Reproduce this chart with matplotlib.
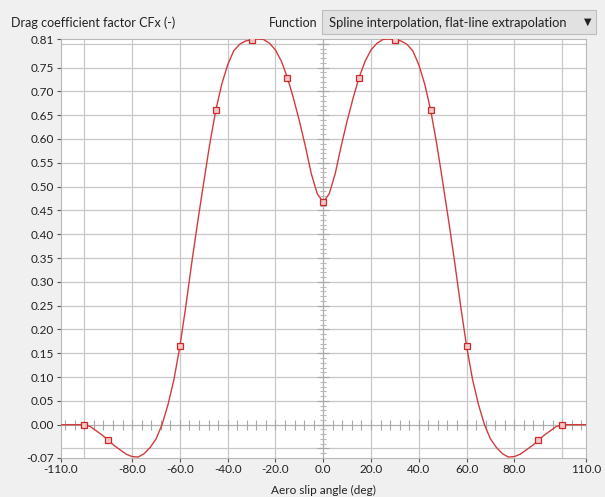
import numpy as np
import matplotlib.pyplot as plt
from matplotlib.patches import Rectangle

plt.rcParams['font.family'] = ['Lato', 'DejaVu Sans']

# control points (markers)
knot_x = [-100, -90, -60, -45, -30, -15, 0, 15, 30, 45, 60, 90, 100]
knot_y = [0.0, -0.033, 0.165, 0.66, 0.808, 0.729, 0.467, 0.729, 0.808, 0.66, 0.165, -0.033, 0.0]

# curve
curve_x = [-110, -105, -100, -97.5, -95, -92.5, -90, -87.5, -85, -82.5, -80, -77.5, -75,
           -72.5, -70, -67.5, -65, -62.5, -60, -57.5, -55, -52.5, -50, -47.5, -45,
           -42.5, -40, -37.5, -35, -32.5, -30, -27.5, -25, -22.5, -20, -17.5, -15,
           -12.5, -10, -7.5, -5, -2.5, 0,
           2.5, 5, 7.5, 10, 12.5, 15, 17.5, 20, 22.5, 25, 27.5, 30, 32.5, 35, 37.5, 40,
           42.5, 45, 47.5, 50, 52.5, 55, 57.5, 60, 62.5, 65, 67.5, 70, 72.5, 75, 77.5,
           80, 82.5, 85, 87.5, 90, 92.5, 95, 97.5, 100, 105, 110]
curve_y = [0.0, 0.0, 0.0, -0.004, -0.013, -0.022, -0.033, -0.044, -0.053, -0.062, -0.067, -0.068, -0.061,
           -0.048, -0.03, 0.0, 0.042, 0.095, 0.165, 0.25, 0.342, 0.428, 0.51, 0.59, 0.66,
           0.715, 0.756, 0.785, 0.799, 0.806, 0.808, 0.81, 0.809, 0.801, 0.787, 0.763, 0.729,
           0.686, 0.638, 0.585, 0.527, 0.485, 0.467,
           0.485, 0.527, 0.585, 0.638, 0.686, 0.729, 0.763, 0.787, 0.801, 0.809, 0.81, 0.808, 0.806, 0.799, 0.785, 0.756,
           0.715, 0.66, 0.59, 0.51, 0.428, 0.342, 0.25, 0.165, 0.095, 0.042, 0.0, -0.03, -0.048, -0.061, -0.068,
           -0.067, -0.062, -0.053, -0.044, -0.033, -0.022, -0.013, -0.004, 0.0, 0.0, 0.0]

x_ticks = [-110, -80, -60, -40, -20, 0, 20, 40, 60, 80, 110]
y_ticks = [-0.07, 0.0, 0.05, 0.10, 0.15, 0.20, 0.25, 0.30, 0.35, 0.40, 0.45, 0.50,
           0.55, 0.60, 0.65, 0.70, 0.75, 0.81]

W, H = 605, 497
fig = plt.figure(figsize=(W / 100, H / 100), dpi=100, facecolor='#f0f0f0')
ax = fig.add_axes([60.5 / W, 1 - 458 / H, 525.5 / W, 419 / H])
ax.set_facecolor('white')
ax.set_xlim(-110, 110)
ax.set_ylim(-0.07, 0.81)

grid_c = '#c8c8c8'
for gy in np.arange(-0.05, 0.81, 0.05):
    if abs(gy) > 1e-6:
        ax.axhline(gy, color=grid_c, lw=0.9, zorder=1)
for gx in range(-100, 101, 20):
    if gx != 0:
        ax.axvline(gx, color=grid_c, lw=0.9, zorder=1)

# axes through the origin with their small ticks
ax.axhline(0, color='#b0b0b0', lw=0.9, zorder=1)
ax.axvline(0, color='#b0b0b0', lw=0.9, zorder=1)
mx = np.arange(-108, 109, 4)
ax.plot(mx, np.zeros_like(mx), ls='none', marker='|', ms=7, mew=0.8, color='#a8a8a8', zorder=2)
my = np.arange(-0.06, 0.81, 0.01)
ax.plot(np.zeros_like(my), my, ls='none', marker='_', ms=5, mew=0.8, color='#b8b8b8', zorder=2)
my5 = np.arange(-0.05, 0.81, 0.05)
ax.plot(np.zeros_like(my5), my5, ls='none', marker='_', ms=9, mew=0.8, color='#a8a8a8', zorder=2)

ax.plot(curve_x, curve_y, color='#d23c3c', lw=1.0, zorder=3)
ax.plot(knot_x, knot_y, ls='none', marker='s', ms=4, mfc='#f6c8c8', mec='#d02828', mew=0.9, zorder=4)

ax.set_xticks(x_ticks)
ax.set_xticklabels(['%.1f' % v for v in x_ticks])
ax.set_yticks(y_ticks)
ax.set_yticklabels(['%.2f' % v for v in y_ticks])
ax.tick_params(direction='out', length=3, width=0.8, color='#555555',
               labelsize=8.5, labelcolor='#222222', pad=1.5)
for s in ax.spines.values():
    s.set_color('#b8b8b8')
    s.set_linewidth(0.8)

fig.text(11 / W, 1 - 23 / H, 'Drag coefficient factor CFx (-)', fontsize=9,
         color='#222222', va='center', ha='left')
fig.text(317 / W, 1 - 23 / H, 'Function', fontsize=9, color='#222222',
         va='center', ha='right')
fig.patches.append(Rectangle((322 / W, 1 - 34 / H), 274 / W, 24 / H,
                             transform=fig.transFigure, facecolor='#e1e1e1',
                             edgecolor='#bdbdbd', lw=0.8))
func_txt = fig.text(329 / W, 1 - 23 / H, 'Spline interpolation, flat-line extrapolation',
                    fontsize=9, color='#222222', va='center', ha='left')
# fit the dropdown text to the width it has in the box
fig.canvas.draw()
tw = func_txt.get_window_extent().width
func_txt.set_fontsize(9 * 240 / tw)
fig.text(588 / W, 1 - 22 / H, '\u25bc', fontsize=7, color='#222222',
         va='center', ha='center', family=['DejaVu Sans'])
fig.text(323 / W, 1 - 490 / H, 'Aero slip angle (deg)', fontsize=8.5,
         color='#222222', va='center', ha='center')

fig.savefig('out.png', dpi=100, facecolor=fig.get_facecolor())
